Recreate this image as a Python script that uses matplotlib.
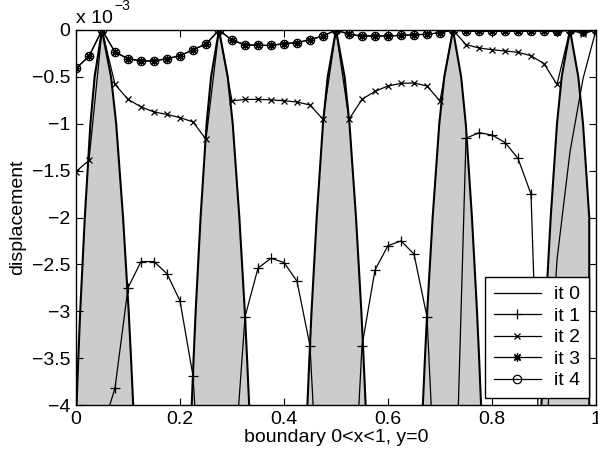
import matplotlib
matplotlib.use("Agg")
import matplotlib.pyplot as plt
import numpy as np

plt.rcParams['font.family'] = ['Liberation Sans', 'DejaVu Sans']

# sample points along the boundary, step 0.025
X = np.linspace(0.0, 1.0, 41)

# displacement values in units of 1e-3 (values below -4 are clipped by the axes)
IT0 = [-8.0, -8.0, -8.0, -8.0, -8.0, -8.0, -8.0, -8.0, -8.0, -8.0,
       -8.0, -8.0, -8.0, -8.0, -8.0, -8.0, -8.0, -8.0, -8.0, -8.0,
       -8.0, -8.0, -8.0, -8.0, -8.0, -8.0, -8.0, -8.0, -8.0, -8.0,
       -8.0, -8.0, -8.0, -8.0, -8.0, -8.0, -4.75, -2.45, -1.3, -0.52, 0.0]
IT1 = [-4.6, -5.0, -4.27, -3.82, -2.75, -2.47, -2.47, -2.6, -2.89, -3.69,
       -6.0, -6.0, -5.0, -3.06, -2.54, -2.435, -2.48, -2.68, -3.37, -6.0,
       -6.0, -6.0, -3.37, -2.56, -2.3, -2.25, -2.39, -3.06, -6.0, -6.0,
       -1.155, -1.095, -1.12, -1.2, -1.37, -1.75, -6.0, -6.0, -6.0, -6.0, -6.0]
IT2 = [-1.51, -1.39, 0.0, -0.58, -0.74, -0.82, -0.875, -0.9, -0.935, -0.98,
       -1.166, 0.0, -0.757, -0.74, -0.74, -0.745, -0.755, -0.768, -0.80, -0.953,
       0.0, -0.953, -0.74, -0.654, -0.597, -0.569, -0.565, -0.597, -0.757, 0.0,
       -0.156, -0.192, -0.21, -0.224, -0.238, -0.274, -0.36, -0.58, 0.0, -0.04, 0.0]
IT3 = [-0.41, -0.28, 0.0, -0.235, -0.306, -0.33, -0.33, -0.306, -0.275, -0.21,
       -0.15, 0.0, -0.11, -0.156, -0.164, -0.164, -0.146, -0.135, -0.103, -0.064,
       0.0, -0.046, -0.064, -0.064, -0.064, -0.057, -0.05, -0.046, -0.029, 0.0,
       -0.012, -0.014, -0.014, -0.014, -0.014, -0.012, -0.01, -0.02, 0.0, -0.02, 0.0]
IT4 = [-0.41, -0.28, 0.0, -0.235, -0.306, -0.33, -0.33, -0.306, -0.275, -0.21,
       -0.15, 0.0, -0.11, -0.156, -0.164, -0.164, -0.146, -0.135, -0.103, -0.064,
       0.0, -0.046, -0.064, -0.064, -0.064, -0.057, -0.05, -0.046, -0.029, 0.0,
       -0.012, -0.014, -0.014, -0.014, -0.014, -0.012, -0.01, -0.008, 0.0, -0.004, 0.0]

SERIES = [IT0, IT1, IT2, IT3, IT4]
LABELS = ["it 0", "it 1", "it 2", "it 3", "it 4"]
MARKERS = [None, "+", "x", (8, 2, 0), "o"]
MSIZES = [0, 6.5, 5, 6, 6]

# grey obstacles: apex positions, half widths at the bottom (y=-4) on each side,
# and the common profile shape (depth -> relative half width)
OBST_X = [0.05, 0.275, 0.5, 0.725, 0.95]
OBST_LEFT_BASE = [0.049, 0.0525, 0.055, 0.058, 0.055]
OBST_RIGHT_BASE = [0.06, 0.058, 0.057, 0.054, 0.055]
OBST_DEPTH = [0.0, 0.5, 1.0, 1.5, 2.0, 2.5, 3.0, 3.5, 4.0, 4.2]
OBST_SHAPE = [0.0, 0.29, 0.455, 0.565, 0.675, 0.765, 0.855, 0.93, 1.0, 1.02]
LAST_RIGHT_LIMIT = 0.987

fig = plt.figure(figsize=(5.98, 4.55), dpi=100)
ax = fig.add_axes([76 / 598, 50 / 455, 520 / 598, 375 / 455])

depth = -np.array(OBST_DEPTH)
shape = np.array(OBST_SHAPE)
for c, lb, rb in zip(OBST_X, OBST_LEFT_BASE, OBST_RIGHT_BASE):
    left = c - lb * shape
    right = np.minimum(c + rb * shape, LAST_RIGHT_LIMIT)
    xs = np.concatenate([left[::-1], right])
    ys = np.concatenate([depth[::-1], depth])
    ax.fill(xs, ys, facecolor="#cccccc", edgecolor="black", linewidth=1.5,
            joinstyle="miter", zorder=1)

for vals, lab, mk, ms in zip(SERIES, LABELS, MARKERS, MSIZES):
    ax.plot(X, vals, color="black", linewidth=0.9, marker=mk,
            markersize=ms, markerfacecolor="none", markeredgewidth=0.9,
            label=lab, zorder=3)

ax.set_xlim(0, 1)
ax.set_ylim(-4, 0)
ax.set_xticks([0, 0.2, 0.4, 0.6, 0.8, 1])
ax.set_xticklabels(["0", "0.2", "0.4", "0.6", "0.8", "1"])
ax.set_yticks([0, -0.5, -1, -1.5, -2, -2.5, -3, -3.5, -4])
ax.set_yticklabels(["0", "\u22120.5", "\u22121", "\u22121.5", "\u22122", "\u22122.5",
                    "\u22123", "\u22123.5", "\u22124"])
ax.tick_params(direction="in", length=5, width=0.8, top=True, right=True,
               labelsize=14, pad=4)
for s in ax.spines.values():
    s.set_linewidth(1.0)

ax.set_xlabel("boundary 0<x<1, y=0", fontsize=14, labelpad=1)
ax.set_ylabel("displacement", fontsize=14, labelpad=4)

ax.text(0.0, 1.008, "x 10", transform=ax.transAxes, fontsize=14, ha="left", va="bottom")
ax.text(0.074, 1.046, "\u22123", transform=ax.transAxes, fontsize=10, ha="left", va="bottom")

leg = ax.legend(loc="lower right", fontsize=14, frameon=True, fancybox=False,
                edgecolor="black", framealpha=1, handlelength=2.4, labelspacing=0.2,
                borderpad=0.45, borderaxespad=0.35, handletextpad=0.7)
leg.get_frame().set_linewidth(1.0)

fig.savefig("out.png", dpi=100)
